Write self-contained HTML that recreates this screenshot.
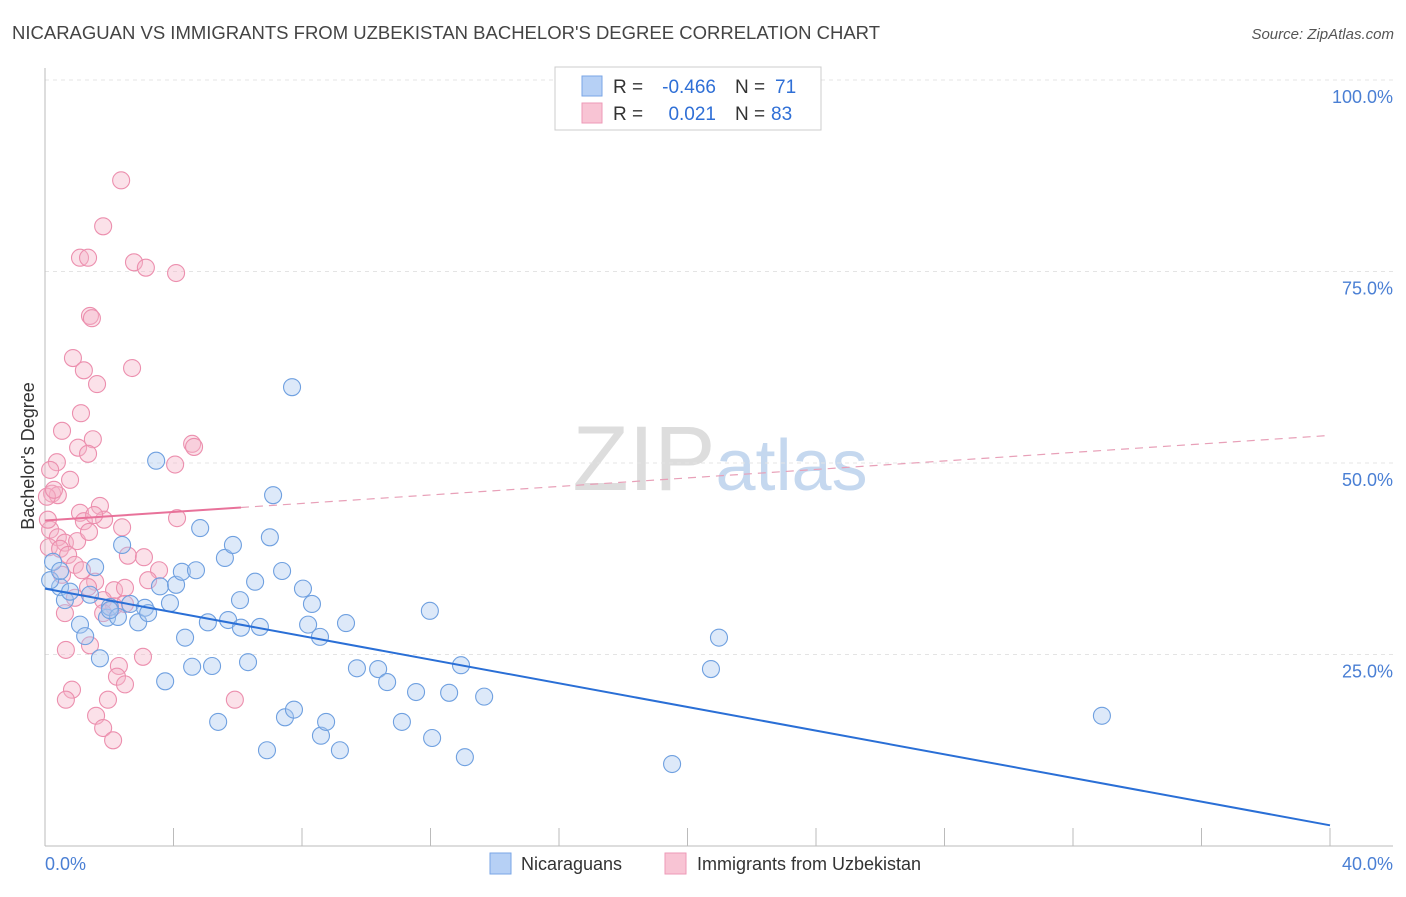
<!DOCTYPE html>
<html><head><meta charset="utf-8"><style>
body{margin:0;background:#fff;font-family:"Liberation Sans",sans-serif}
svg text{font-family:"Liberation Sans",sans-serif}
</style></head><body>
<svg id="chart" width="1406" height="892" xmlns="http://www.w3.org/2000/svg">
<text x="12" y="39" font-size="18.5" fill="#444">NICARAGUAN VS IMMIGRANTS FROM UZBEKISTAN BACHELOR'S DEGREE CORRELATION CHART</text>
<text x="1394" y="39" font-size="15" fill="#555" text-anchor="end" font-style="italic">Source: ZipAtlas.com</text>
<text x="720" y="490" font-size="92" text-anchor="middle" fill="#ddd" font-family="Liberation Serif">ZIP<tspan fill="#c5d8ef" font-family="Liberation Sans" font-size="72">atlas</tspan></text>
<g id="grid"></g><g id="axes"></g><g id="pts"></g><g id="lines"></g>
<text transform="translate(34,456) rotate(-90)" font-size="18" fill="#333" text-anchor="middle">Bachelor's Degree</text>
<text x="45" y="870" font-size="18" fill="#4a7fd4">0.0%</text>
<text x="1393" y="870" font-size="18" fill="#4a7fd4" text-anchor="end">40.0%</text>
<g>
<rect x="555" y="67" width="266" height="63" fill="#fff" stroke="#ccc"/>
<rect x="582" y="76" width="20" height="20" fill="#b6d0f5" stroke="#7aa6e6"/>
<rect x="582" y="103" width="20" height="20" fill="#f8c4d4" stroke="#ee9ab7"/>
<text x="613" y="93" font-size="19" fill="#333">R =</text>
<text x="716" y="93" font-size="19" fill="#2f6fd6" text-anchor="end">-0.466</text>
<text x="735" y="93" font-size="19" fill="#333">N =</text>
<text x="775" y="93" font-size="19" fill="#2f6fd6">71</text>
<text x="613" y="120" font-size="19" fill="#333">R =</text>
<text x="716" y="120" font-size="19" fill="#2f6fd6" text-anchor="end">0.021</text>
<text x="735" y="120" font-size="19" fill="#333">N =</text>
<text x="771" y="120" font-size="19" fill="#2f6fd6">83</text>
</g>
<g>
<rect x="490" y="853" width="21" height="21" fill="#b6d0f5" stroke="#7aa6e6"/>
<text x="521" y="870" font-size="18" fill="#333">Nicaraguans</text>
<rect x="665" y="853" width="21" height="21" fill="#f8c4d4" stroke="#ee9ab7"/>
<text x="697" y="870" font-size="18" fill="#333">Immigrants from Uzbekistan</text>
</g>
</svg>
<script>
const yTicks=[25,50,75,100];
const yTickLabels=["25.0%","50.0%","75.0%","100.0%"];
const xTicks=[0,4,8,12,16,20,24,28,32,36,40];
const blueX=[0.25,0.47,0.62,0.78,1.09,1.25,1.4,1.56,1.71,1.93,2.02,2.27,2.4,2.65,2.9,3.11,3.21,3.46,3.58,3.74,3.89,4.08,4.26,4.36,4.58,4.7,4.83,5.07,5.2,5.39,5.6,5.7,5.85,6.07,6.1,6.32,6.54,6.69,6.91,7.0,7.1,7.38,7.47,7.69,7.75,8.03,8.19,8.31,8.56,8.59,8.75,9.18,9.37,9.71,10.37,10.65,11.11,11.55,12.05,11.98,12.58,12.95,13.07,13.67,19.52,20.73,20.98,32.9,0.16,0.47,2.02];
const blueY=[37.1,33.8,32.1,33.2,28.9,27.4,32.8,36.4,24.5,29.8,31.2,29.9,39.3,31.6,29.2,31.1,30.4,50.3,33.9,21.5,31.7,34.1,35.8,27.2,23.4,36.0,41.5,29.2,23.5,16.2,37.6,29.5,39.3,32.1,28.5,24.0,34.5,28.6,12.5,40.3,45.8,35.9,16.8,59.9,17.8,33.6,28.9,31.6,27.3,14.4,16.2,12.5,29.1,23.2,23.1,21.4,16.2,20.1,14.1,30.7,20.0,23.6,11.6,19.5,10.7,23.1,27.2,17.0,34.7,35.9,30.8];
const pinkX=[2.37,1.81,1.09,1.34,2.77,3.14,4.08,1.4,1.46,0.87,1.21,2.71,1.62,1.12,0.53,1.49,4.58,4.64,4.05,1.03,1.34,0.37,0.16,0.78,0.22,0.4,0.06,1.71,1.09,1.21,1.84,2.4,4.11,0.16,0.4,0.62,1.0,1.37,0.12,0.47,0.72,0.93,1.15,2.58,3.08,3.55,0.53,1.56,1.34,2.15,2.49,3.21,0.93,1.81,2.15,2.49,0.62,1.81,1.4,0.65,3.05,2.3,2.24,2.49,0.84,0.65,1.96,5.91,1.59,1.81,2.12,0.28,0.09,1.53];
const pinkY=[86.9,80.9,76.8,76.8,76.2,75.5,74.8,69.2,68.9,63.7,62.1,62.4,60.3,56.5,54.2,53.1,52.5,52.1,49.8,52.0,51.2,50.1,49.1,47.8,46.0,45.8,45.6,44.4,43.5,42.4,42.6,41.6,42.8,41.3,40.3,39.6,39.8,41.0,39.0,38.8,38.0,36.7,36.0,37.9,37.7,36.0,35.4,34.5,33.8,33.4,33.7,34.7,32.4,32.1,31.3,31.6,30.4,30.4,26.2,25.6,24.7,23.5,22.1,21.1,20.4,19.1,19.1,19.1,17.0,15.4,13.8,46.5,42.6,43.2];
const blueTrend=[33.6,2.7];
const pinkTrend=[42.5,53.6];
const pinkSolidEnd=6.1;
const NS="http://www.w3.org/2000/svg";
const X0=45,X1=1330,Y0=846,Y100=80;
const sx=v=>X0+(X1-X0)*v/40, sy=v=>Y0-(Y0-Y100)*v/100;
function mk(tag,attrs,parent){const e=document.createElementNS(NS,tag);for(const k in attrs)e.setAttribute(k,attrs[k]);parent.appendChild(e);return e;}
const grid=document.getElementById('grid'),axes=document.getElementById('axes'),pts=document.getElementById('pts'),lines=document.getElementById('lines');
yTicks.forEach((t,i)=>{
 const l=mk('line',{x1:45,x2:1393,y1:sy(t),y2:sy(t),stroke:'#e4e4e4','stroke-dasharray':'4,4'},grid);
 
 
 const tx=mk('text',{x:1393,y:sy(t)+23,'font-size':18,fill:'#4a7fd4','text-anchor':'end'},grid);
 tx.textContent=yTickLabels[i];
 
 
});
const ax=mk('line',{x1:45,x2:1393,y1:846,y2:846,stroke:'#bbb'},axes);


const ay=mk('line',{x1:45,x2:45,y1:68,y2:846,stroke:'#bbb'},axes);


xTicks.forEach(t=>{const l=mk('line',{x1:sx(t),x2:sx(t),y1:828,y2:846,stroke:'#bbb'},axes);
 
 });
function dots(xs,ys,fill,stroke,name){xs.forEach((x,i)=>{const c=mk('circle',{cx:sx(x),cy:sy(ys[i]),r:8.5,fill:fill,'fill-opacity':0.4,stroke:stroke,'stroke-width':1.1},pts);
 
 });}
dots(pinkX,pinkY,'#f5b3c8','#ec8fae','uzbekistan-point');
dots(blueX,blueY,'#a9c8f0','#6fa0e0','nicaraguan-point');
const bl=mk('line',{x1:sx(0),y1:sy(blueTrend[0]),x2:sx(40),y2:sy(blueTrend[1]),stroke:'#2a6fd6','stroke-width':2},lines);


const py=x=>pinkTrend[0]+(pinkTrend[1]-pinkTrend[0])*x/40;
const ps=mk('line',{x1:sx(0),y1:sy(py(0)),x2:sx(pinkSolidEnd),y2:sy(py(pinkSolidEnd)),stroke:'#e8729a','stroke-width':2},lines);


const pd=mk('line',{x1:sx(pinkSolidEnd),y1:sy(py(pinkSolidEnd)),x2:sx(40),y2:sy(py(40)),stroke:'#e8a0b8','stroke-width':1.2,'stroke-dasharray':'8,6'},lines);


</script>
</body></html>
